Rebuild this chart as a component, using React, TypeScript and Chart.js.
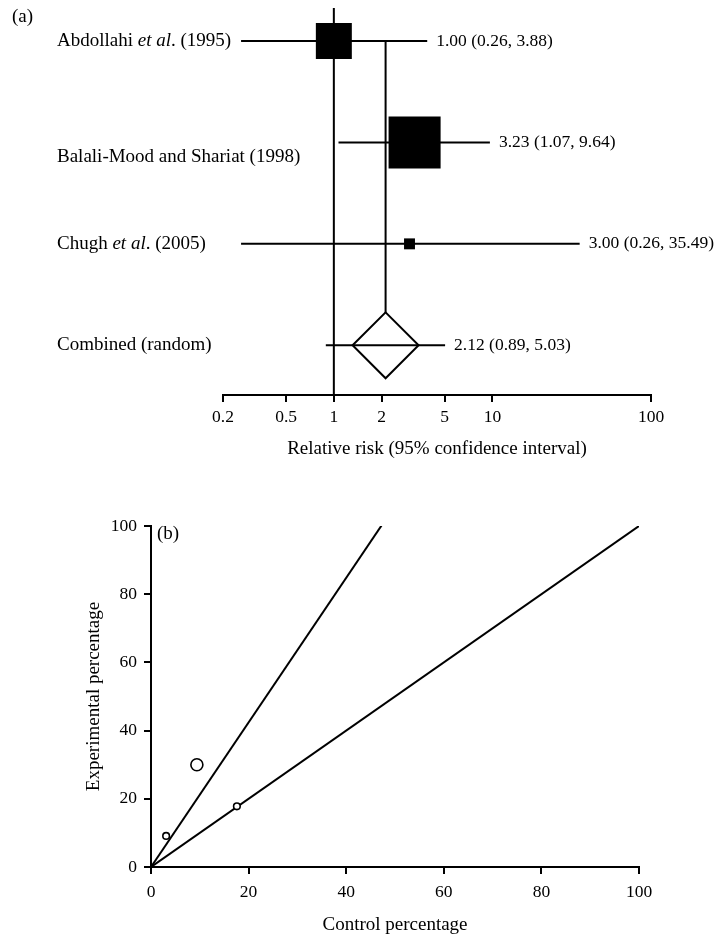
import React, { useEffect, useRef } from 'react';
import { Chart, registerables } from 'chart.js';

Chart.register(...registerables);

// ---------- Panel (a): forest plot data ----------
const studies = ['Abdollahi et al. (1995)', 'Balali-Mood and Shariat (1998)', 'Chugh et al. (2005)'];
const combinedLabel = 'Combined (random)';
const relativeRisk = [1.0, 3.23, 3.0];
const ciLower = [0.26, 1.07, 0.26];
const ciUpper = [3.88, 9.64, 35.49];
const studyWeights = [31.4, 65.7, 2.9];
const pooledRR = 2.12;
const pooledLower = 0.89;
const pooledUpper = 5.03;
const rrTicks = [0.2, 0.5, 1, 2, 5, 10, 100];
const rrAxisTitle = 'Relative risk (95% confidence interval)';

// ---------- Panel (b): L'Abbé plot data ----------
const controlPct = [17.6, 9.4, 3.1];
const experimentalPct = [17.8, 30.0, 9.1];
const bubbleRadius = [3.3, 6, 3.3];
const pctTicks = [0, 20, 40, 60, 80, 100];
const xTitleB = 'Control percentage';
const yTitleB = 'Experimental percentage';

const SERIF = "'Liberation Serif', 'Times New Roman', Times, serif";
const FS_TEXT = 19;
const FS_NUM = 17.5;
const Y_MIN = 0.675;
const Y_MAX = 4.49;

function drawRich(ctx: CanvasRenderingContext2D, text: string, x: number, y: number) {
  const parts: { t: string; i: boolean }[] = [];
  const idx = text.indexOf('et al');
  if (idx >= 0) {
    parts.push({ t: text.slice(0, idx), i: false });
    parts.push({ t: 'et al', i: true });
    parts.push({ t: text.slice(idx + 5), i: false });
  } else parts.push({ t: text, i: false });
  let cx = x;
  ctx.textAlign = 'left';
  ctx.textBaseline = 'middle';
  for (const p of parts) {
    ctx.font = `${p.i ? 'italic ' : ''}${FS_TEXT}px ${SERIF}`;
    ctx.fillText(p.t, cx, y);
    cx += ctx.measureText(p.t).width;
  }
}

const fmt = (v: number) => v.toFixed(2);

const forestLabels = {
  id: 'forestLabels',
  afterDatasetsDraw(chart: any) {
    const { ctx } = chart;
    const xs = chart.scales.x;
    const ys = chart.scales.y;
    ctx.save();
    ctx.fillStyle = '#000';
    const labelDy = [0, 15, 0];
    studies.forEach((s, i) => {
      const y = ys.getPixelForValue(i + 1);
      drawRich(ctx, s, 57, y + labelDy[i]);
      ctx.font = `${FS_NUM}px ${SERIF}`;
      ctx.textAlign = 'left';
      ctx.textBaseline = 'middle';
      ctx.fillText(
        `${fmt(relativeRisk[i])} (${fmt(ciLower[i])}, ${fmt(ciUpper[i])})`,
        xs.getPixelForValue(ciUpper[i]) + 9,
        y
      );
    });
    const yc = ys.getPixelForValue(4);
    drawRich(ctx, combinedLabel, 57, yc);
    ctx.font = `${FS_NUM}px ${SERIF}`;
    ctx.textAlign = 'left';
    ctx.textBaseline = 'middle';
    ctx.fillText(`${fmt(pooledRR)} (${fmt(pooledLower)}, ${fmt(pooledUpper)})`, xs.getPixelForValue(pooledUpper) + 9, yc);
    ctx.font = `${FS_TEXT}px ${SERIF}`;
    ctx.fillText('(a)', 12, 17);
    ctx.restore();
  },
};

const panelBLabel = {
  id: 'panelBLabel',
  afterDatasetsDraw(chart: any) {
    const { ctx, chartArea } = chart;
    ctx.save();
    ctx.fillStyle = '#000';
    ctx.font = `${FS_TEXT}px ${SERIF}`;
    ctx.textAlign = 'left';
    ctx.textBaseline = 'middle';
    ctx.fillText('(b)', chartArea.left + 6, chartArea.top + 8);
    ctx.restore();
  },
};

function lineDs(data: { x: number; y: number }[], order: number) {
  return {
    data,
    showLine: true,
    borderColor: '#000',
    borderWidth: 2,
    pointRadius: 0,
    fill: false,
    order,
  };
}

export default function App() {
  const topRef = useRef<HTMLCanvasElement>(null);
  const botRef = useRef<HTMLCanvasElement>(null);

  useEffect(() => {
    const rowCI = [
      ...studies.map((_, i) => lineDs([{ x: ciLower[i], y: i + 1 }, { x: ciUpper[i], y: i + 1 }], 3)),
      lineDs([{ x: pooledLower, y: 4 }, { x: pooledUpper, y: 4 }], 3),
    ];
    const top = new Chart(topRef.current!, {
      type: 'scatter',
      data: {
        datasets: [
          lineDs([{ x: 1, y: Y_MIN }, { x: 1, y: Y_MAX }], 6),
          lineDs([{ x: pooledRR, y: 1 }, { x: pooledRR, y: 4 }], 5),
          {
            data: [{ x: pooledRR, y: 4 }],
            pointStyle: 'rectRot',
            pointRadius: 33,
            pointBackgroundColor: '#fff',
            pointBorderColor: '#000',
            pointBorderWidth: 2,
            showLine: false,
            order: 4,
          },
          ...rowCI,
          {
            data: relativeRisk.map((v, i) => ({ x: v, y: i + 1 })),
            pointStyle: 'rect',
            pointRadius: studyWeights.map((w) => (6.42 * Math.sqrt(w)) / Math.SQRT2),
            pointBackgroundColor: '#000',
            pointBorderColor: '#000',
            pointBorderWidth: 0,
            showLine: false,
            order: 1,
          },
        ] as any,
      },
      options: {
        animation: false,
        responsive: false,
        events: [],
        layout: { autoPadding: false, padding: { left: 223, right: 74, top: 8, bottom: 0 } },
        plugins: { legend: { display: false }, tooltip: { enabled: false } },
        scales: {
          x: {
            type: 'logarithmic',
            min: 0.2,
            max: 100,
            afterBuildTicks: (s: any) => {
              s.ticks = rrTicks.map((v) => ({ value: v }));
            },
            afterFit: (s: any) => {
              s.height = 75;
            },
            ticks: {
              autoSkip: false,
              maxRotation: 0,
              color: '#000',
              padding: 4.5,
              font: { family: SERIF, size: FS_NUM },
              callback: (v: any) => String(v),
            },
            grid: { drawOnChartArea: false, drawTicks: true, tickLength: 7, color: '#000', lineWidth: 2 },
            border: { display: true, color: '#000', width: 2 },
            title: {
              display: true,
              text: rrAxisTitle,
              color: '#000',
              font: { family: SERIF, size: FS_TEXT },
              padding: { top: 0, bottom: 9.6 },
            },
          },
          y: { type: 'linear', display: false, reverse: true, min: Y_MIN, max: Y_MAX },
        },
      } as any,
      plugins: [forestLabels],
    });

    const bot = new Chart(botRef.current!, {
      type: 'scatter',
      data: {
        datasets: [
          lineDs([{ x: 0, y: 0 }, { x: 100, y: 100 }], 2),
          lineDs([{ x: 0, y: 0 }, { x: 100, y: 100 * pooledRR }], 2),
          {
            data: controlPct.map((c, i) => ({ x: c, y: experimentalPct[i] })),
            pointStyle: 'circle',
            pointRadius: bubbleRadius,
            pointBackgroundColor: '#fff',
            pointBorderColor: '#000',
            pointBorderWidth: 1.6,
            showLine: false,
            order: 0,
          },
        ] as any,
      },
      options: {
        animation: false,
        responsive: false,
        events: [],
        layout: { autoPadding: false, padding: { left: 78, right: 86, top: 56, bottom: 0 } },
        plugins: { legend: { display: false }, tooltip: { enabled: false } },
        scales: {
          x: {
            type: 'linear',
            min: 0,
            max: 100,
            afterBuildTicks: (s: any) => {
              s.ticks = pctTicks.map((v) => ({ value: v }));
            },
            afterFit: (s: any) => {
              s.height = 70;
            },
            ticks: { color: '#000', padding: 7.5, maxRotation: 0, font: { family: SERIF, size: FS_NUM } },
            grid: { drawOnChartArea: false, drawTicks: true, tickLength: 7, color: '#000', lineWidth: 2 },
            border: { display: true, color: '#000', width: 2 },
            title: {
              display: true,
              text: xTitleB,
              color: '#000',
              font: { family: SERIF, size: FS_TEXT },
              padding: { top: 0, bottom: 0.6 },
            },
          },
          y: {
            type: 'linear',
            min: 0,
            max: 100,
            afterBuildTicks: (s: any) => {
              s.ticks = pctTicks.map((v) => ({ value: v }));
            },
            afterFit: (s: any) => {
              s.width = 73;
            },
            ticks: { color: '#000', padding: 7, font: { family: SERIF, size: FS_NUM } },
            grid: { drawOnChartArea: false, drawTicks: true, tickLength: 7, color: '#000', lineWidth: 2 },
            border: { display: true, color: '#000', width: 2 },
            title: {
              display: true,
              text: yTitleB,
              color: '#000',
              font: { family: SERIF, size: FS_TEXT },
              padding: { top: 4.6, bottom: 0 },
            },
          },
        },
      } as any,
      plugins: [panelBLabel],
    });

    return () => {
      top.destroy();
      bot.destroy();
    };
  }, []);

  return (
    <div style={{ position: 'absolute', left: 0, top: 0, width: 725, height: 937, background: '#fff' }}>
      <canvas ref={topRef} width={725} height={470} style={{ position: 'absolute', left: 0, top: 0 }} />
      <canvas ref={botRef} width={725} height={467} style={{ position: 'absolute', left: 0, top: 470 }} />
    </div>
  );
}
